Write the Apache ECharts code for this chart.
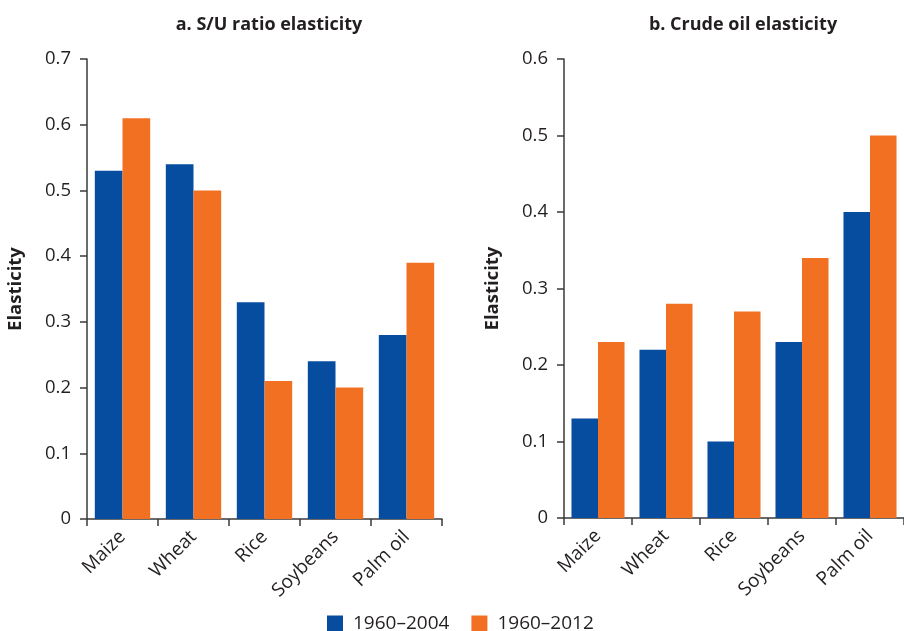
<!DOCTYPE html>
<html>
<head>
<meta charset="utf-8">
<script src="https://cdn.jsdelivr.net/npm/echarts@6/dist/echarts.min.js"></script>
<style>
  html, body { margin: 0; padding: 0; background: #fff; }
  #chart { width: 904px; height: 631px; }
</style>
</head>
<body>
<div id="chart"></div>
<script>
// Commodities on both panels
const categories = ['Maize', 'Wheat', 'Rice', 'Soybeans', 'Palm oil'];
const seriesNames = ['1960–2004', '1960–2012'];

// Panel a: stocks-to-use ratio elasticity
const suEarly = [0.53, 0.54, 0.33, 0.24, 0.28];
const suLate  = [0.61, 0.50, 0.21, 0.20, 0.39];

// Panel b: crude oil elasticity
const oilEarly = [0.13, 0.22, 0.10, 0.23, 0.40];
const oilLate  = [0.23, 0.28, 0.27, 0.34, 0.50];

// Y-axis tick settings
const suTicks = { max: 0.7, interval: 0.1 };
const oilTicks = { max: 0.6, interval: 0.1 };

const BLUE = '#064da0';
const ORANGE = '#f17022';
const INK = '#231f20';
const AXIS = '#3a3a3a';
const FONT = 'Open Sans';

function xAxisFor(gridIndex) {
  return {
    type: 'category',
    gridIndex: gridIndex,
    data: categories,
    axisLine: { lineStyle: { color: AXIS, width: 1.5 } },
    axisTick: { show: true, length: 7, lineStyle: { color: AXIS, width: 1.5 } },
    axisLabel: { rotate: 45, margin: 15, color: INK, fontFamily: FONT, fontSize: 19 }
  };
}

function yAxisFor(gridIndex, ticks) {
  return {
    type: 'value',
    gridIndex: gridIndex,
    min: 0,
    max: ticks.max,
    interval: ticks.interval,
    name: 'Elasticity',
    nameLocation: 'middle',
    nameGap: 62,
    nameTextStyle: { color: INK, fontFamily: FONT, fontSize: 18.5, fontWeight: 'bold' },
    axisLine: { show: true, lineStyle: { color: AXIS, width: 1.5 } },
    axisTick: { show: true, inside: false, length: 7, lineStyle: { color: AXIS, width: 1.5 } },
    axisLabel: {
      margin: 16, color: INK, fontFamily: FONT, fontSize: 18.5,
      formatter: v => (v === 0 ? '0' : v.toFixed(1))
    },
    splitLine: { show: false }
  };
}

function barSeries(name, data, color, axisIndex) {
  return {
    name: name,
    type: 'bar',
    xAxisIndex: axisIndex,
    yAxisIndex: axisIndex,
    data: data,
    barGap: '0%',
    barCategoryGap: '22%',
    itemStyle: { color: color },
    emphasis: { disabled: true }
  };
}

const chart = echarts.init(document.getElementById('chart'), null, { renderer: 'canvas' });
chart.setOption({
  animation: false,
  backgroundColor: '#fff',
  title: [
    {
      text: 'a. S/U ratio elasticity', left: 264, top: 11, textAlign: 'center',
      textStyle: { color: INK, fontFamily: FONT, fontSize: 18, fontWeight: 'bold' }
    },
    {
      text: 'b. Crude oil elasticity', left: 738, top: 11, textAlign: 'center',
      textStyle: { color: INK, fontFamily: FONT, fontSize: 18, fontWeight: 'bold' }
    }
  ],
  legend: {
    left: 327, top: 614, padding: 0,
    itemWidth: 16, itemHeight: 16, itemGap: 22,
    icon: 'rect',
    data: seriesNames,
    textStyle: { color: INK, fontFamily: FONT, fontSize: 19, padding: [0, 0, 0, 5] }
  },
  grid: [
    { left: 87, right: 462, top: 59, bottom: 112 },
    { left: 564, right: -9, top: 59, bottom: 113 }
  ],
  xAxis: [xAxisFor(0), xAxisFor(1)],
  yAxis: [yAxisFor(0, suTicks), yAxisFor(1, oilTicks)],
  series: [
    barSeries(seriesNames[0], suEarly, BLUE, 0),
    barSeries(seriesNames[1], suLate, ORANGE, 0),
    barSeries(seriesNames[0], oilEarly, BLUE, 1),
    barSeries(seriesNames[1], oilLate, ORANGE, 1)
  ]
});
</script>
</body>
</html>
